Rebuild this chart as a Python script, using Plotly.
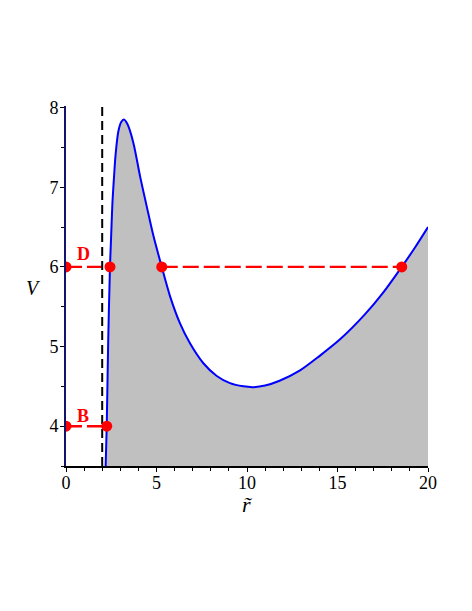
import plotly.graph_objects as go

# Potential curve V(r~)
r_curve = [2.19, 2.25, 2.33, 2.43, 2.49, 2.56, 2.65, 2.74, 2.89, 3.05, 3.20, 3.40,
           3.72, 4.09, 4.46, 4.82, 5.29, 5.75, 6.30, 6.85, 7.59, 8.33, 9.06,
           9.80, 10.35, 11.00, 11.80, 12.93, 14.00, 15.14, 16.50, 17.50, 18.55, 19.30, 20.00]
V_curve = [3.50, 4.00, 5.05, 6.00, 6.36, 6.78, 7.12, 7.41, 7.70, 7.82, 7.85, 7.79,
           7.56, 7.14, 6.76, 6.40, 6.00, 5.63, 5.29, 5.04, 4.79, 4.63, 4.54,
           4.50, 4.49, 4.51, 4.57, 4.70, 4.88, 5.09, 5.40, 5.67, 6.00, 6.25, 6.50]

horizon_r = 2.0

level_D = 6.0
D_points = [0.0, 2.43, 5.29, 18.55]
level_B = 4.0
B_points = [0.0, 2.25]

x_ticks = [0, 5, 10, 15, 20]
y_ticks = [4, 5, 6, 7, 8]
y_range = [3.5, 8.02]

SERIF = "Liberation Serif, Times New Roman, serif"
RED_DASH = "16px,5px"

fig = go.Figure()

# shaded forbidden region under the curve
fig.add_trace(go.Scatter(x=r_curve, y=V_curve, mode="lines",
                         line=dict(color="rgba(0,0,0,0)", width=0, shape="spline", smoothing=0.8),
                         fill="tozeroy", fillcolor="#c0c0c0",
                         hoverinfo="skip", showlegend=False))

# red dashed energy levels
fig.add_trace(go.Scatter(x=[D_points[0], D_points[1]], y=[level_D, level_D], mode="lines",
                         line=dict(color="#ff0000", width=2.4, dash=RED_DASH),
                         showlegend=False))
fig.add_trace(go.Scatter(x=[D_points[2], D_points[3]], y=[level_D, level_D], mode="lines",
                         line=dict(color="#ff0000", width=2.4, dash=RED_DASH),
                         showlegend=False))
fig.add_trace(go.Scatter(x=[B_points[0], B_points[1]], y=[level_B, level_B], mode="lines",
                         line=dict(color="#ff0000", width=2.4, dash=RED_DASH),
                         showlegend=False))

# horizon dashed line
fig.add_trace(go.Scatter(x=[horizon_r, horizon_r], y=y_range, mode="lines",
                         line=dict(color="black", width=2, dash="9px,5px"),
                         showlegend=False))

# blue potential curve
fig.add_trace(go.Scatter(x=r_curve, y=V_curve, mode="lines",
                         line=dict(color="#0000ff", width=2, shape="spline", smoothing=0.8),
                         showlegend=False))

# turning points
fig.add_trace(go.Scatter(x=D_points + B_points,
                         y=[level_D] * len(D_points) + [level_B] * len(B_points),
                         mode="markers", marker=dict(color="#ff0000", size=11),
                         showlegend=False))

fig.add_annotation(x=0.94, y=6.16, text="<b>D</b>", showarrow=False,
                   font=dict(family=SERIF, size=18, color="#ff0000"))
fig.add_annotation(x=0.96, y=4.13, text="<b>B</b>", showarrow=False,
                   font=dict(family=SERIF, size=18, color="#ff0000"))

# axis titles
fig.add_annotation(xref="paper", yref="paper", x=0.5, y=-0.108, text="<i>r\u0303</i>",
                   xanchor="center", yanchor="middle",
                   showarrow=False, font=dict(family=SERIF, size=22, color="black"))
fig.add_annotation(xref="paper", yref="paper", x=-0.091, y=0.494, text="<i>V</i>",
                   xanchor="center", yanchor="middle",
                   showarrow=False, font=dict(family=SERIF, size=20, color="black"))

TICKFONT = dict(family=SERIF, size=18, color="black")

fig.update_layout(
    width=472, height=611,
    margin=dict(l=58, r=52, t=98, b=153, pad=0),
    plot_bgcolor="white", paper_bgcolor="white",
    font=dict(family=SERIF, size=18, color="black"),
    xaxis=dict(range=[0, 20], tickvals=x_ticks, ticktext=[str(v) for v in x_ticks],
               tickfont=TICKFONT, ticklabelstandoff=-4,
               showgrid=False, zeroline=False, showline=True, linecolor="black",
               linewidth=1.5, ticks="outside", ticklen=4, tickwidth=1, tickcolor="black",
               minor=dict(dtick=1, ticks="outside", ticklen=3, tickcolor="black")),
    yaxis=dict(range=y_range, tickvals=y_ticks, ticktext=[str(v) for v in y_ticks],
               tickfont=TICKFONT, ticklabelstandoff=-2,
               showgrid=False, zeroline=False, showline=True, linecolor="#14146e",
               linewidth=2, ticks="outside", ticklen=4, tickwidth=1, tickcolor="black",
               minor=dict(dtick=0.5, ticks="outside", ticklen=3, tickcolor="black")),
)

fig.write_html("out.html")
